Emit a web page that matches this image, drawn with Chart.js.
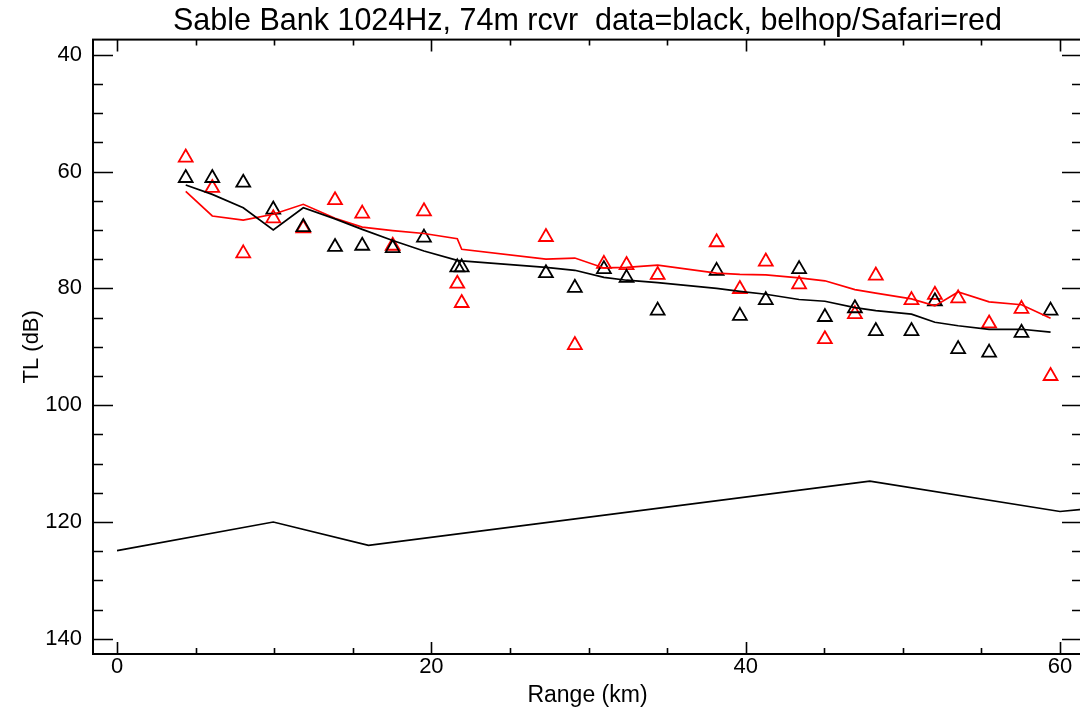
<!DOCTYPE html>
<html>
<head>
<meta charset="utf-8">
<title>Sable Bank TL</title>
<script src="https://cdn.jsdelivr.net/npm/chart.js@4.4.1/dist/chart.umd.min.js"></script>
<style>
  html, body { margin: 0; padding: 0; background: #fff; overflow: hidden; }
</style>
</head>
<body>
<canvas id="tlChart" width="1084" height="710"></canvas>
<script>
// ranges (km) of the measurements, shared by data and model
const ranges = [4.37, 6.06, 8.03, 9.94, 11.85, 13.87, 15.6, 17.54, 19.53, 21.65, 21.93, 27.29, 29.13, 30.98, 32.42,
  34.4, 38.15, 39.63, 41.28, 43.4, 45.04, 46.95, 48.28, 50.55, 52.04, 53.52, 55.49, 57.55, 59.4];

// measured TL (black triangles) and its smoothed curve
const dataTL = [61.1, 61.1, 61.9, 66.5, 69.5, 72.9, 72.7, 73.1, 71.3, 76.4, 76.4, 77.4, 79.9, 76.7, 78.2,
  83.8, 77.0, 84.7, 82.0, 76.7, 84.9, 83.4, 87.3, 87.3, 82.2, 90.4, 91.0, 87.6, 83.8];
const dataSmooth = [62.3, 63.9, 66.2, 70.0, 66.2, 68.1, 69.9, 71.8, 73.6, 75.2, 75.3, 76.4, 76.9, 78.1, 78.6,
  79.0, 80.0, 80.5, 81.0, 81.9, 82.2, 83.3, 83.8, 84.4, 85.8, 86.4, 87.0, 87.0, 87.5];

// belhop/Safari TL (red triangles) and its smoothed curve
const modelTL = [57.6, 62.8, 74.0, 68.0, 69.7, 64.9, 67.2, 72.7, 66.8, 79.2, 82.5, 71.2, 89.7, 75.8, 76.0,
  77.7, 72.1, 80.1, 75.4, 79.3, 88.7, 84.4, 77.8, 82.0, 81.1, 81.7, 86.0, 83.5, 95.0];
const modelSmooth = [63.4, 67.6, 68.3, 67.3, 65.6, 68.0, 69.5, 70.1, 70.6, 71.5, 73.3, 75.0, 74.8, 76.5, 76.4,
  76.0, 77.4, 77.6, 77.7, 78.2, 78.7, 80.2, 80.8, 81.8, 83.0, 80.6, 82.3, 82.8, 85.1];

// lower black curve
const lowerRange = [0, 9.94, 16.0, 47.9, 60.0, 62.0];
const lowerTL = [124.9, 120.0, 124.0, 113.0, 118.2, 117.7];

const xTicks = [0, 20, 40, 60];
const yTicks = [40, 60, 80, 100, 120, 140];

const toPts = (xs, ys) => xs.map((v, i) => ({ x: v, y: ys[i] }));
const FONT = "'Liberation Sans', Arial, sans-serif";

// IDL style box with inward ticks on all four sides
const frameTicks = {
  id: 'frameTicks',
  afterDatasetsDraw(chart) {
    const { ctx, chartArea: a, scales: { x, y } } = chart;
    ctx.save();
    ctx.strokeStyle = '#000';
    ctx.lineWidth = 2;
    ctx.strokeRect(a.left, a.top, a.right - a.left, a.bottom - a.top);
    ctx.lineWidth = 1.6;
    ctx.beginPath();
    for (let v = 0; v <= 60; v += 5) {
      const px = Math.round(x.getPixelForValue(v)) + 0.5;
      const len = xTicks.includes(v) ? 12 : 6;
      ctx.moveTo(px, a.bottom); ctx.lineTo(px, a.bottom - len);
      ctx.moveTo(px, a.top); ctx.lineTo(px, a.top + len);
    }
    for (let v = 40; v <= 140; v += 5) {
      const py = Math.round(y.getPixelForValue(v)) + 0.5;
      const len = yTicks.includes(v) ? 20 : 10;
      ctx.moveTo(a.left, py); ctx.lineTo(a.left + len, py);
      ctx.moveTo(a.right, py); ctx.lineTo(a.right - len, py);
    }
    ctx.stroke();
    ctx.restore();
  }
};

new Chart(document.getElementById('tlChart'), {
  type: 'scatter',
  data: {
    datasets: [
      {
        label: 'lower',
        data: toPts(lowerRange, lowerTL),
        showLine: true,
        borderColor: '#000',
        borderWidth: 1.7,
        pointRadius: 0
      },
      {
        label: 'data smoothed',
        data: toPts(ranges, dataSmooth),
        showLine: true,
        borderColor: '#000',
        borderWidth: 1.7,
        pointRadius: 0
      },
      {
        label: 'belhop/Safari smoothed',
        data: toPts(ranges, modelSmooth),
        showLine: true,
        borderColor: '#ff0000',
        borderWidth: 1.7,
        pointRadius: 0
      },
      {
        label: 'data',
        data: toPts(ranges, dataTL),
        pointStyle: 'triangle',
        pointRadius: 8,
        borderColor: '#000',
        backgroundColor: 'rgba(0,0,0,0)',
        pointBorderWidth: 1.8
      },
      {
        label: 'belhop/Safari',
        data: toPts(ranges, modelTL),
        pointStyle: 'triangle',
        pointRadius: 8,
        borderColor: '#ff0000',
        backgroundColor: 'rgba(0,0,0,0)',
        pointBorderWidth: 1.8
      }
    ]
  },
  options: {
    responsive: false,
    animation: false,
    devicePixelRatio: 1,
    layout: { autoPadding: false, padding: { left: 0, right: 2, top: 0, bottom: 0 } },
    plugins: {
      legend: { display: false },
      tooltip: { enabled: false },
      title: {
        display: true,
        fullSize: false,
        text: 'Sable Bank 1024Hz, 74m rcvr  data=black, belhop/Safari=red',
        color: '#000',
        font: { family: FONT, size: 30.5, weight: 'normal', lineHeight: 1.2 },
        padding: { top: 3, bottom: 0 }
      }
    },
    scales: {
      x: {
        type: 'linear',
        min: -1.53,
        max: 61.4,
        afterBuildTicks: s => { s.ticks = xTicks.map(v => ({ value: v })); },
        afterFit: s => { s.height = 56; s.paddingLeft = 0; s.paddingRight = 0; },
        grid: { display: false, drawTicks: false },
        border: { display: false },
        ticks: { color: '#000', padding: 0, font: { family: FONT, size: 22 }, callback: v => String(v) },
        title: {
          display: true,
          text: 'Range (km)',
          color: '#000',
          font: { family: FONT, size: 23 },
          padding: { top: 0, bottom: 1 }
        }
      },
      y: {
        type: 'linear',
        reverse: true,
        min: 37.4,
        max: 142.6,
        afterBuildTicks: s => { s.ticks = yTicks.map(v => ({ value: v })); },
        afterFit: s => { s.width = 93; s.paddingTop = 0; s.paddingBottom = 0; },
        grid: { display: false, drawTicks: false },
        border: { display: false },
        ticks: { color: '#000', padding: 11, font: { family: FONT, size: 22 }, callback: v => String(v) },
        title: {
          display: true,
          text: 'TL (dB)',
          color: '#000',
          font: { family: FONT, size: 22 },
          padding: { top: 19, bottom: 0 }
        }
      }
    }
  },
  plugins: [frameTicks]
});
</script>
</body>
</html>
